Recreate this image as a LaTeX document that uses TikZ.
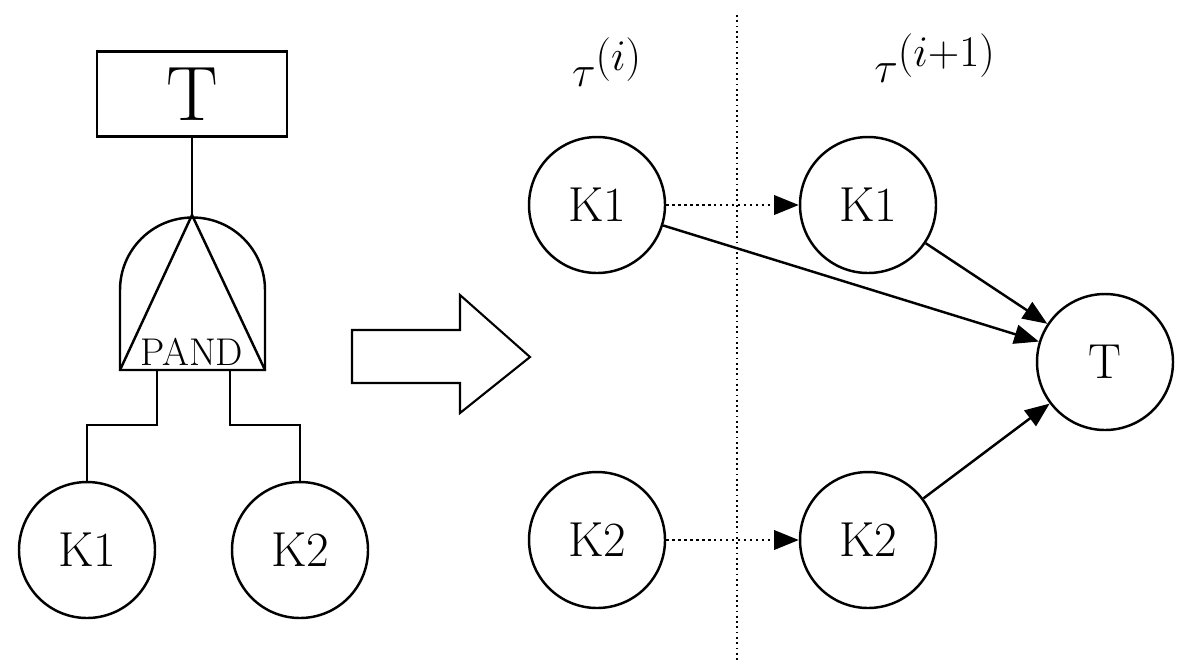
\documentclass[tikz,border=0pt]{standalone}
\usetikzlibrary{arrows.meta}
\begin{document}
\begin{tikzpicture}[x=0.02cm,y=-0.02cm,line width=1.4pt,
  circ/.style={draw,circle,minimum size=136*0.02cm,inner sep=0pt,font=\fontsize{28}{30}\selectfont},
  dot/.style={dotted,-{Triangle[length=14pt,width=11pt]}},
  sol/.style={-{Triangle[length=14pt,width=11pt]}}]
\useasboundingbox (0,0) rectangle (1192,667);
% left fault tree
\node[draw,minimum width=190*0.02cm,minimum height=85*0.02cm,font=\fontsize{44}{46}\selectfont] (top) at (192,94) {T};
\coordinate (apex) at (192,215);
\draw (top.south) -- (apex);
\draw (120,370) -- (120,290) arc[start angle=180,end angle=360,radius=72.5] -- (265,370) -- cycle;
\draw (120,370) -- (apex) -- (265,370);
\node[font=\fontsize{22}{24}\selectfont] (pand) at (192,352) {PAND};
\node[circ] (k1) at (87,550) {K1};
\node[circ] (k2) at (300,550) {K2};
\draw (157,370) -- (157,425) -- (87,425) -- (k1.north);
\draw (230,370) -- (230,425) -- (300,425) -- (k2.north);
% block arrow
\draw[line width=1.2pt] (352,330) -- (460,330) -- (460,295) -- (530,357) -- (460,413) -- (460,383) -- (352,383) -- cycle;
% right
\draw[dotted,line width=1pt] (737,15) -- (737,660);
\node[font=\fontsize{36}{38}\selectfont] (t1) at (607,62) {$\tau^{(i)}$};
\node[font=\fontsize{36}{38}\selectfont] (t2) at (935,58) {$\tau^{(i+1)}$};
\node[circ] (a1) at (597,205) {K1};
\node[circ] (b1) at (868,205) {K1};
\node[circ] (a2) at (597,540) {K2};
\node[circ] (b2) at (868,540) {K2};
\node[circ] (T) at (1105,362) {T};
\draw[dot] (a1) -- (b1);
\draw[dot] (a2) -- (b2);
\draw[sol] (a1) -- (T);
\draw[sol] (b1) -- (T);
\draw[sol] (b2) -- (T);
\end{tikzpicture}
\end{document}
